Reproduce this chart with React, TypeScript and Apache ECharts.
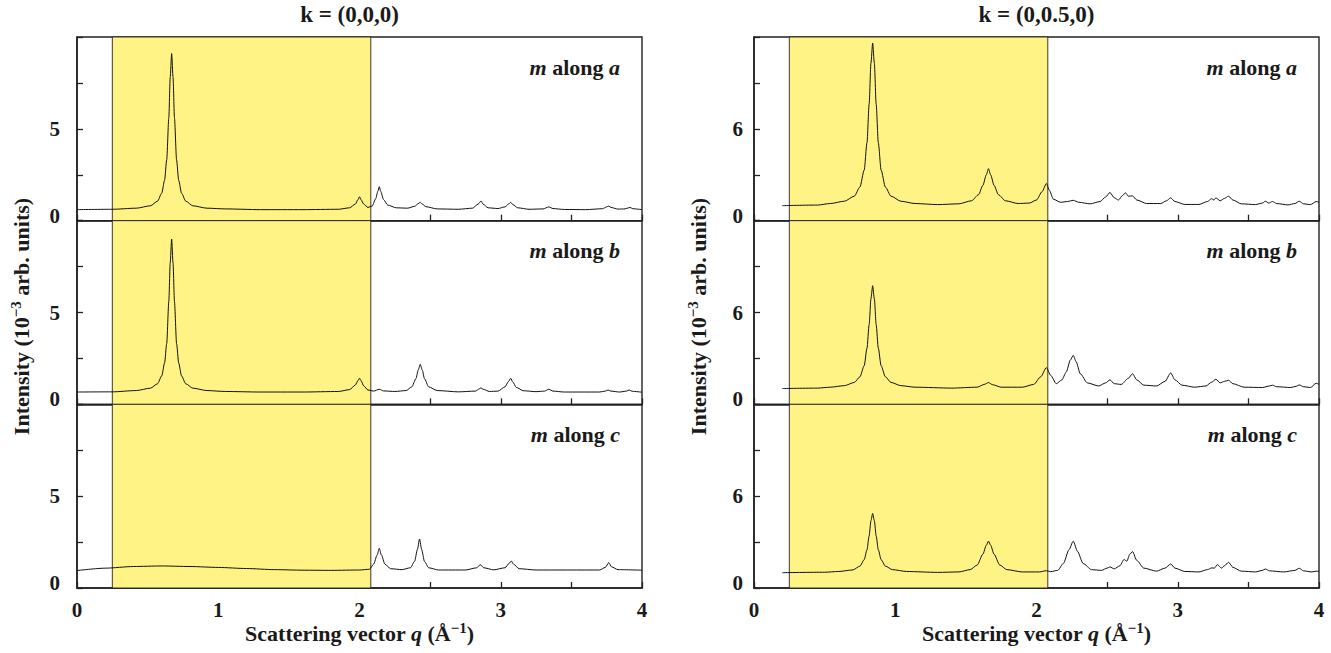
import React, { useEffect, useRef } from "react";
import * as echarts from "echarts";

// ---------- data ----------
const panelTitles = ["k = (0,0,0)", "k = (0,0.5,0)"];
const panelLabels = ["a", "b", "c"];
const highlightStart = 0.25;
const highlightEnd = 2.08;
const leftYTicks = { max: 10, interval: 2.5, labeled: [0, 5] };
const rightYTicks = { max: 12, interval: 3, labeled: [0, 6] };

// k = (0,0,0), m along a
const leftA: number[][] = [
  [0, 0.6], [0.25, 0.62], [0.42, 0.68], [0.52, 0.81], [0.57, 1.06], [0.6, 1.5], [0.62, 2.2], [0.635, 3.3],
  [0.65, 5.6], [0.66, 7.8], [0.67, 9.1], [0.68, 7.8], [0.69, 5.6], [0.705, 3.3], [0.72, 2.2], [0.74, 1.5],
  [0.77, 1.06], [0.82, 0.81], [0.92, 0.68], [1.05, 0.64], [1.3, 0.6], [1.6, 0.6], [1.85, 0.62], [1.93, 0.7],
  [1.97, 0.9], [1.99, 1.15], [2.0, 1.3], [2.01, 1.15], [2.03, 0.9], [2.06, 0.72], [2.09, 0.8], [2.115, 1.2],
  [2.13, 1.6], [2.14, 1.85], [2.15, 1.6], [2.17, 1.15], [2.2, 0.85], [2.26, 0.7], [2.34, 0.68], [2.39, 0.78],
  [2.415, 0.92], [2.43, 1.0], [2.445, 0.9], [2.47, 0.76], [2.55, 0.64], [2.7, 0.62], [2.8, 0.68], [2.84, 0.9],
  [2.86, 1.07], [2.875, 0.9], [2.91, 0.7], [2.98, 0.66], [3.03, 0.75], [3.055, 0.9], [3.07, 1.0], [3.085, 0.88],
  [3.12, 0.7], [3.2, 0.62], [3.3, 0.64], [3.34, 0.75], [3.37, 0.66], [3.45, 0.61], [3.6, 0.6], [3.72, 0.65],
  [3.75, 0.75], [3.765, 0.8], [3.78, 0.72], [3.83, 0.63], [3.88, 0.64], [3.905, 0.7], [3.915, 0.72], [3.935, 0.65],
  [4.0, 0.6],
];

// k = (0,0,0), m along b
const leftB: number[][] = [
  [0, 0.67], [0.25, 0.68], [0.42, 0.75], [0.52, 0.88], [0.57, 1.12], [0.6, 1.55], [0.62, 2.25], [0.635, 3.3],
  [0.65, 5.6], [0.66, 7.7], [0.67, 9.0], [0.68, 7.7], [0.69, 5.6], [0.705, 3.3], [0.72, 2.25], [0.74, 1.55],
  [0.77, 1.12], [0.82, 0.88], [0.92, 0.75], [1.05, 0.7], [1.3, 0.67], [1.6, 0.67], [1.85, 0.7], [1.93, 0.8],
  [1.97, 1.05], [1.99, 1.3], [2.0, 1.42], [2.01, 1.3], [2.03, 1.0], [2.06, 0.78], [2.1, 0.72], [2.14, 0.82],
  [2.17, 0.73], [2.25, 0.7], [2.33, 0.75], [2.37, 0.95], [2.4, 1.4], [2.415, 1.85], [2.43, 2.18], [2.445, 1.85],
  [2.46, 1.4], [2.49, 0.95], [2.55, 0.75], [2.7, 0.68], [2.82, 0.72], [2.85, 0.85], [2.86, 0.9], [2.875, 0.82],
  [2.92, 0.7], [2.98, 0.72], [3.03, 0.95], [3.055, 1.25], [3.07, 1.42], [3.085, 1.22], [3.11, 0.92], [3.16, 0.74],
  [3.25, 0.69], [3.31, 0.72], [3.34, 0.82], [3.37, 0.72], [3.45, 0.67], [3.7, 0.67], [3.74, 0.72], [3.76, 0.78],
  [3.78, 0.72], [3.84, 0.67], [3.89, 0.72], [3.91, 0.78], [3.93, 0.71], [4.0, 0.66],
];

// k = (0,0,0), m along c
const leftC: number[][] = [
  [0, 0.95], [0.2, 1.08], [0.4, 1.17], [0.6, 1.2], [0.8, 1.17], [1.0, 1.12], [1.2, 1.06], [1.4, 1.0],
  [1.6, 0.97], [1.8, 0.96], [2.0, 0.98], [2.07, 1.02], [2.1, 1.3], [2.125, 1.8], [2.14, 2.16], [2.155, 1.8],
  [2.18, 1.3], [2.22, 1.05], [2.3, 1.0], [2.36, 1.1], [2.39, 1.45], [2.41, 2.1], [2.425, 2.67], [2.44, 2.1],
  [2.46, 1.45], [2.49, 1.1], [2.56, 0.98], [2.75, 0.98], [2.83, 1.1], [2.855, 1.27], [2.88, 1.1], [2.95, 0.99],
  [3.03, 1.1], [3.06, 1.35], [3.075, 1.47], [3.09, 1.3], [3.13, 1.05], [3.25, 0.98], [3.7, 0.98], [3.74, 1.12],
  [3.765, 1.38], [3.785, 1.15], [3.83, 1.0], [4.0, 0.97],
];

// k = (0,0.5,0), m along a
const rightA: number[][] = [
  [0.2, 0.98], [0.45, 1.02], [0.54, 1.12], [0.64, 1.27], [0.71, 1.6], [0.75, 2.2], [0.78, 3.3], [0.8, 5.1],
  [0.815, 7.6], [0.828, 10.3], [0.84, 11.6], [0.852, 10.3], [0.865, 7.6], [0.88, 5.1], [0.9, 3.3], [0.93, 2.2],
  [0.97, 1.6], [1.04, 1.27], [1.14, 1.12], [1.3, 1.05], [1.45, 1.1], [1.54, 1.3], [1.59, 1.7], [1.62, 2.3],
  [1.645, 3.0], [1.66, 3.4], [1.675, 3.0], [1.7, 2.3], [1.73, 1.7], [1.78, 1.3], [1.87, 1.12], [1.95, 1.15],
  [2.0, 1.35], [2.04, 1.9], [2.07, 2.43], [2.09, 2.0], [2.12, 1.4], [2.17, 1.2], [2.22, 1.25], [2.26, 1.33],
  [2.3, 1.2], [2.38, 1.1], [2.45, 1.25], [2.49, 1.55], [2.52, 1.84], [2.55, 1.5], [2.58, 1.35], [2.61, 1.65],
  [2.63, 1.82], [2.65, 1.6], [2.68, 1.62], [2.71, 1.35], [2.78, 1.12], [2.88, 1.12], [2.92, 1.3], [2.95, 1.49],
  [2.98, 1.25], [3.05, 1.06], [3.15, 1.06], [3.21, 1.25], [3.24, 1.44], [3.255, 1.35], [3.27, 1.49], [3.3, 1.3],
  [3.33, 1.45], [3.36, 1.6], [3.39, 1.35], [3.45, 1.1], [3.55, 1.05], [3.6, 1.15], [3.62, 1.27], [3.645, 1.15],
  [3.67, 1.25], [3.7, 1.12], [3.78, 1.03], [3.83, 1.12], [3.86, 1.27], [3.89, 1.1], [3.94, 1.05], [3.98, 1.25],
  [4.0, 1.2],
];

// k = (0,0.5,0), m along b
const rightB: number[][] = [
  [0.2, 1.03], [0.45, 1.06], [0.54, 1.12], [0.64, 1.22], [0.71, 1.43], [0.75, 1.8], [0.78, 2.52], [0.8, 3.67],
  [0.815, 5.2], [0.828, 6.9], [0.84, 7.75], [0.852, 6.9], [0.865, 5.2], [0.88, 3.67], [0.9, 2.52], [0.93, 1.8],
  [0.97, 1.43], [1.04, 1.22], [1.14, 1.12], [1.4, 1.06], [1.58, 1.12], [1.63, 1.3], [1.66, 1.42], [1.69, 1.28],
  [1.75, 1.12], [1.9, 1.12], [1.98, 1.3], [2.03, 1.8], [2.07, 2.4], [2.1, 1.9], [2.14, 1.35], [2.18, 1.6],
  [2.21, 2.1], [2.24, 2.9], [2.26, 3.2], [2.28, 2.8], [2.31, 2.0], [2.36, 1.4], [2.44, 1.2], [2.49, 1.4],
  [2.52, 1.6], [2.55, 1.35], [2.6, 1.3], [2.65, 1.7], [2.68, 2.0], [2.71, 1.6], [2.76, 1.25], [2.85, 1.2],
  [2.91, 1.5], [2.95, 2.05], [2.98, 1.6], [3.03, 1.25], [3.12, 1.12], [3.2, 1.2], [3.24, 1.45], [3.27, 1.64],
  [3.3, 1.4], [3.33, 1.5], [3.36, 1.57], [3.39, 1.35], [3.47, 1.12], [3.6, 1.1], [3.65, 1.2], [3.67, 1.25],
  [3.7, 1.15], [3.8, 1.1], [3.84, 1.18], [3.86, 1.27], [3.89, 1.15], [3.94, 1.1], [3.98, 1.38], [4.0, 1.3],
];

// k = (0,0.5,0), m along c
const rightC: number[][] = [
  [0.2, 1.0], [0.5, 1.03], [0.6, 1.08], [0.7, 1.18], [0.75, 1.43], [0.78, 1.85], [0.8, 2.5], [0.815, 3.4],
  [0.828, 4.4], [0.84, 4.87], [0.852, 4.4], [0.865, 3.4], [0.88, 2.5], [0.9, 1.85], [0.93, 1.43], [0.98, 1.2],
  [1.08, 1.08], [1.3, 1.02], [1.45, 1.05], [1.53, 1.2], [1.58, 1.5], [1.62, 2.2], [1.645, 2.8], [1.66, 3.06],
  [1.675, 2.8], [1.7, 2.2], [1.74, 1.5], [1.79, 1.2], [1.9, 1.05], [2.02, 1.05], [2.07, 1.13], [2.1, 1.07],
  [2.15, 1.15], [2.19, 1.6], [2.23, 2.5], [2.26, 3.06], [2.29, 2.4], [2.33, 1.6], [2.39, 1.2], [2.46, 1.15],
  [2.5, 1.3], [2.52, 1.38], [2.55, 1.25], [2.59, 1.45], [2.62, 1.86], [2.64, 1.75], [2.66, 2.2], [2.68, 2.38],
  [2.71, 1.8], [2.76, 1.3], [2.85, 1.1], [2.91, 1.3], [2.95, 1.57], [2.98, 1.3], [3.05, 1.08], [3.15, 1.05],
  [3.21, 1.2], [3.24, 1.31], [3.26, 1.3], [3.28, 1.53], [3.31, 1.3], [3.33, 1.45], [3.36, 1.68], [3.39, 1.35],
  [3.45, 1.1], [3.55, 1.05], [3.6, 1.15], [3.62, 1.24], [3.65, 1.12], [3.75, 1.05], [3.83, 1.15], [3.86, 1.29],
  [3.89, 1.12], [3.95, 1.05], [3.98, 1.1], [4.0, 1.08],
];

const leftSeries = [leftA, leftB, leftC];
const rightSeries = [rightA, rightB, rightC];

// ---------- layout ----------
const FONT = "Liberation Serif";
const GRID_TOP = 37;
const GRID_BOTTOM = 588;
const PANEL_H = (GRID_BOTTOM - GRID_TOP) / 3;
const COLS = [
  { left: 77, width: 565, data: leftSeries, ticks: leftYTicks, labelMargin: 17, titleShift: -10 },
  { left: 754, width: 565, data: rightSeries, ticks: rightYTicks, labelMargin: 11, titleShift: 0 },
];

const boldStyle = (size: number, italic = false) => ({
  fontFamily: FONT,
  fontWeight: "bold",
  fontStyle: italic ? "italic" : "normal",
  fontSize: size,
  fill: "#1a1a1a",
  color: "#1a1a1a",
});

export default function App() {
  const ref = useRef<HTMLDivElement>(null);

  useEffect(() => {
    if (!ref.current) return;
    const chart = echarts.init(ref.current, undefined, { renderer: "svg" });

    const grids: any[] = [];
    const xAxes: any[] = [];
    const yAxes: any[] = [];
    const series: any[] = [];
    const graphics: any[] = [];

    COLS.forEach((col, ci) => {
      for (let r = 0; r < 3; r++) {
        const idx = grids.length;
        const top = GRID_TOP + r * PANEL_H;
        grids.push({
          left: col.left,
          top,
          width: col.width,
          height: PANEL_H,
          show: true,
          borderColor: "#222",
          borderWidth: 1.4,
          backgroundColor: "transparent",
        });
        xAxes.push({
          type: "value",
          gridIndex: idx,
          min: 0,
          max: 4,
          interval: 0.5,
          axisLine: { show: true, onZero: false, lineStyle: { color: "#222", width: 1.6 } },
          axisTick: { show: true, inside: true, length: 6, lineStyle: { color: "#222", width: 1.3 } },
          splitLine: { show: false },
          axisLabel: {
            show: r === 2,
            margin: 11,
            fontFamily: FONT,
            fontWeight: "bold",
            fontSize: 21,
            color: "#1a1a1a",
            formatter: (v: number) => (Number.isInteger(v) ? String(v) : ""),
          },
        });
        const t = col.ticks;
        yAxes.push({
          type: "value",
          gridIndex: idx,
          min: 0,
          max: t.max,
          interval: t.interval,
          axisLine: { show: true, lineStyle: { color: "#222", width: 1.6 } },
          axisTick: { show: true, inside: true, length: 6, lineStyle: { color: "#222", width: 1.3 } },
          splitLine: { show: false },
          axisLabel: {
            show: true,
            margin: col.labelMargin,
            fontFamily: FONT,
            fontWeight: "bold",
            fontSize: 21,
            color: "#1a1a1a",
            formatter: (v: number) =>
              v === 0 ? "{z|0}" : t.labeled.includes(v) ? String(v) : "",
            rich: {
              z: {
                fontFamily: FONT,
                fontWeight: "bold",
                fontSize: 21,
                color: "#1a1a1a",
                padding: [0, 0, 10, 0],
              },
            },
          },
        });
        series.push({
          type: "line",
          xAxisIndex: idx,
          yAxisIndex: idx,
          data: col.data[r],
          showSymbol: false,
          symbol: "none",
          smooth: 0.25,
          smoothMonotone: "x",
          lineStyle: { color: "#111", width: 1 },
          z: 5,
          markArea: {
            silent: true,
            itemStyle: { color: "#fff385", borderColor: "#222", borderWidth: 0.9 },
            data: [[{ xAxis: highlightStart }, { xAxis: highlightEnd }]],
          },
        });
        graphics.push({
          type: "text",
          x: col.left + col.width - 22,
          y: top + 30,
          style: {
            text: "{i|m}{b| along }{i|" + panelLabels[r] + "}",
            align: "right",
            verticalAlign: "middle",
            textAlign: "right",
            textVerticalAlign: "middle",
            rich: {
              i: boldStyle(22, true),
              b: boldStyle(22),
            },
          },
          z: 100,
        });
      }

      const cx = col.left + col.width / 2;
      graphics.push({
        type: "text",
        x: cx + col.titleShift,
        y: 14,
        style: {
          text: "{b|" + panelTitles[ci] + "}",
          align: "center",
          verticalAlign: "middle",
          textAlign: "center",
          textVerticalAlign: "middle",
          rich: { b: boldStyle(23) },
        },
        z: 100,
      });
      graphics.push({
        type: "text",
        x: cx,
        y: 633,
        style: {
          text: "{b|Scattering vector }{i|q}{b| (Å}{s|−1}{b|)}",
          align: "center",
          verticalAlign: "middle",
          textAlign: "center",
          textVerticalAlign: "middle",
          rich: {
            b: boldStyle(22),
            i: boldStyle(22, true),
            s: { ...boldStyle(15), padding: [0, 0, 10, 0] },
          },
        },
        z: 100,
      });
      graphics.push({
        type: "text",
        x: col.left - 56,
        y: (GRID_TOP + GRID_BOTTOM) / 2 + 4,
        rotation: Math.PI / 2,
        style: {
          text: "{b|Intensity (10}{s|−3}{b| arb. units)}",
          align: "center",
          verticalAlign: "middle",
          textAlign: "center",
          textVerticalAlign: "middle",
          rich: {
            b: boldStyle(22),
            s: { ...boldStyle(15), padding: [0, 0, 10, 0] },
          },
        },
        z: 100,
      });
    });

    chart.setOption({
      animation: false,
      backgroundColor: "#fff",
      textStyle: { fontFamily: FONT },
      grid: grids,
      xAxis: xAxes,
      yAxis: yAxes,
      series,
      graphic: graphics,
    });

    return () => chart.dispose();
  }, []);

  return (
    <div
      ref={ref}
      style={{ position: "fixed", left: 0, top: 0, width: 1331, height: 653 }}
    />
  );
}
